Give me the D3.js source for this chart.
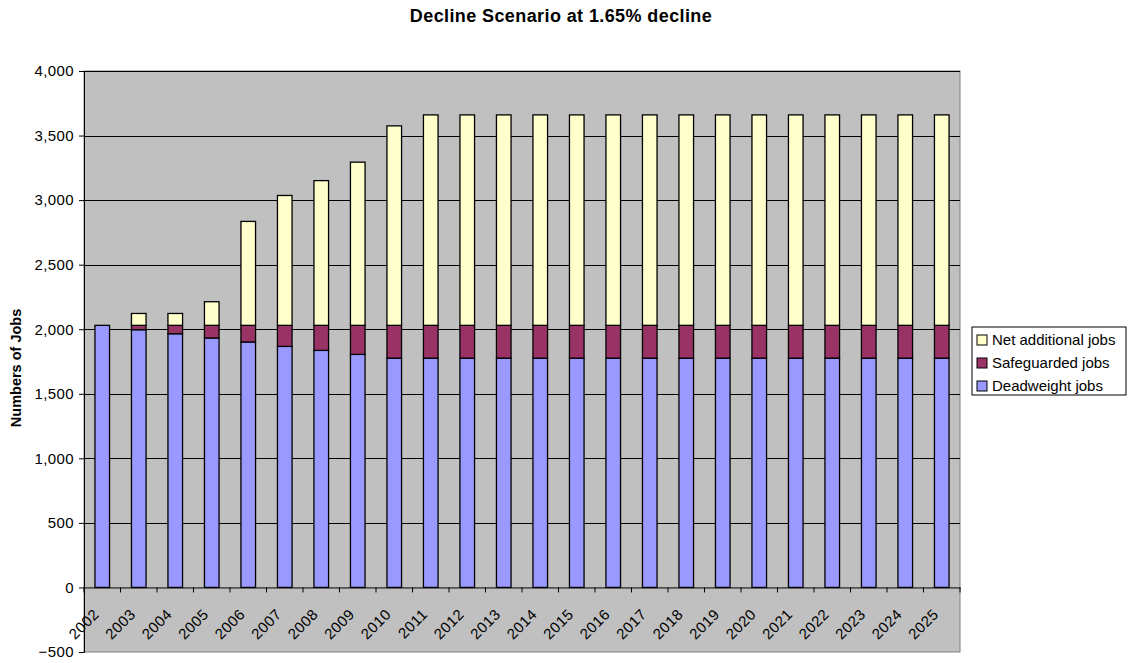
<!DOCTYPE html>
<html>
<head>
<meta charset="utf-8">
<script src="https://cdn.jsdelivr.net/npm/d3@7"></script>
<style>
  body { margin: 0; background: #fff; }
  svg { font-family: Arial, "Liberation Sans", sans-serif; }
</style>
</head>
<body>
<svg id="chart" width="1128" height="663"></svg>
<script>
"use strict";

// chart data
var years = ["2002","2003","2004","2005","2006","2007","2008","2009","2010","2011","2012","2013",
             "2014","2015","2016","2017","2018","2019","2020","2021","2022","2023","2024","2025"];
var deadweight = [2030,1996,1965,1932,1901,1867,1836,1805,1776,1776,1776,1776,
                  1776,1776,1776,1776,1776,1776,1776,1776,1776,1776,1776,1776];
var safeguarded = [0,34,65,98,129,163,194,225,254,254,254,254,
                   254,254,254,254,254,254,254,254,254,254,254,254];
var netAdditional = [0,92,92,183,805,1006,1121,1264,1545,1630,1630,1630,
                     1630,1630,1630,1630,1630,1630,1630,1630,1630,1630,1630,1630];
var seriesNames = ["Deadweight jobs", "Safeguarded jobs", "Net additional jobs"];
var yTicks = [-500, 0, 500, 1000, 1500, 2000, 2500, 3000, 3500, 4000];

var colors = {"Deadweight jobs": "#9999FF", "Safeguarded jobs": "#993366", "Net additional jobs": "#FFFFCC"};

var margin = {top: 71, right: 168, bottom: 11, left: 84};
var W = 1128, H = 663;
var iw = W - margin.left - margin.right;
var ih = H - margin.top - margin.bottom;

var svg = d3.select("#chart");

var x = d3.scaleBand().domain(years).range([0, iw]).paddingInner(0.6).paddingOuter(0.3);
var xb = d3.scaleBand().domain(years).range([0, iw]);
var y = d3.scaleLinear().domain([-500, 4000]).range([ih, 0]);

var rows = years.map(function (yr, i) {
    return {year: yr, "Deadweight jobs": deadweight[i], "Safeguarded jobs": safeguarded[i],
            "Net additional jobs": netAdditional[i]};
});
var stacked = d3.stack().keys(seriesNames)(rows);

// title
svg.append("text")
    .attr("x", 561).attr("y", 22)
    .attr("text-anchor", "middle")
    .attr("font-size", "18px").attr("font-weight", "bold")
    .attr("letter-spacing", "0.4px")
    .text("Decline Scenario at 1.65% decline");

var g = svg.append("g").attr("transform", "translate(" + margin.left + "," + margin.top + ")");

// plot area
g.append("rect")
    .attr("width", iw).attr("height", ih)
    .attr("fill", "#C0C0C0").attr("stroke", "#808080").attr("stroke-width", 1);

// gridlines
g.selectAll(".grid").data(yTicks.filter(function (d) { return d > 0; }))
  .enter().append("line")
    .attr("x1", 0).attr("x2", iw)
    .attr("y1", function (d) { return Math.round(y(d)) + 0.5; })
    .attr("y2", function (d) { return Math.round(y(d)) + 0.5; })
    .attr("stroke", "#000").attr("stroke-width", 1);

// bars
g.selectAll(".series").data(stacked).enter().append("g")
    .attr("fill", function (d) { return colors[d.key]; })
  .selectAll("rect").data(function (d) { return d; })
  .enter().filter(function (d) { return d[1] - d[0] > 0; }).append("rect")
    .attr("x", function (d) { return x(d.data.year); })
    .attr("width", x.bandwidth())
    .attr("y", function (d) { return y(d[1]); })
    .attr("height", function (d) { return y(d[0]) - y(d[1]); })
    .attr("stroke", "#000").attr("stroke-width", 1.3);

// y axis
var yAxis = g.append("g")
    .call(d3.axisLeft(y).tickValues(yTicks).tickSize(5).tickFormat(d3.format(",")));
yAxis.select(".domain").attr("stroke", "#000");
yAxis.selectAll("text").attr("font-size", "15px").attr("letter-spacing", "0.4px")
    .attr("fill", "#000").attr("dx", "-2");

// x axis at zero
var xAxis = g.append("g").attr("transform", "translate(0," + y(0) + ")")
    .call(d3.axisBottom(xb).tickSize(5).tickSizeOuter(0));
xAxis.select(".domain").attr("stroke", "#000");
xAxis.selectAll(".tick line")
    .attr("transform", function () { return "translate(" + (-xb.bandwidth() / 2) + ",0)"; });
xAxis.append("line")
    .attr("x1", iw).attr("x2", iw).attr("y1", 0).attr("y2", 5).attr("stroke", "#000");
xAxis.selectAll(".tick text")
    .attr("font-size", "15px").attr("letter-spacing", "0.5px").attr("fill", "#000")
    .attr("text-anchor", "end")
    .attr("x", 0).attr("y", 0).attr("dy", "0.35em")
    .attr("transform", "translate(-6,24) rotate(-45)");

// y axis title
svg.append("text")
    .attr("transform", "translate(21," + (margin.top + y(1700)) + ") rotate(-90)")
    .attr("text-anchor", "middle")
    .attr("font-size", "14.5px").attr("font-weight", "bold")
    .text("Numbers of Jobs");

// legend
var legend = svg.append("g").attr("transform", "translate(972,327)");
legend.append("rect")
    .attr("width", 154).attr("height", 68)
    .attr("fill", "#fff").attr("stroke", "#000");
var legendOrder = seriesNames.slice().reverse();
var items = legend.selectAll(".item").data(legendOrder).enter().append("g")
    .attr("transform", function (d, i) { return "translate(5," + (13 + i * 23) + ")"; });
items.append("rect")
    .attr("x", 0).attr("y", -5).attr("width", 10).attr("height", 10)
    .attr("fill", function (d) { return colors[d]; }).attr("stroke", "#000");
items.append("text")
    .attr("x", 15).attr("y", 0).attr("dy", "0.35em")
    .attr("font-size", "15px")
    .text(function (d) { return d; });
</script>
</body>
</html>
